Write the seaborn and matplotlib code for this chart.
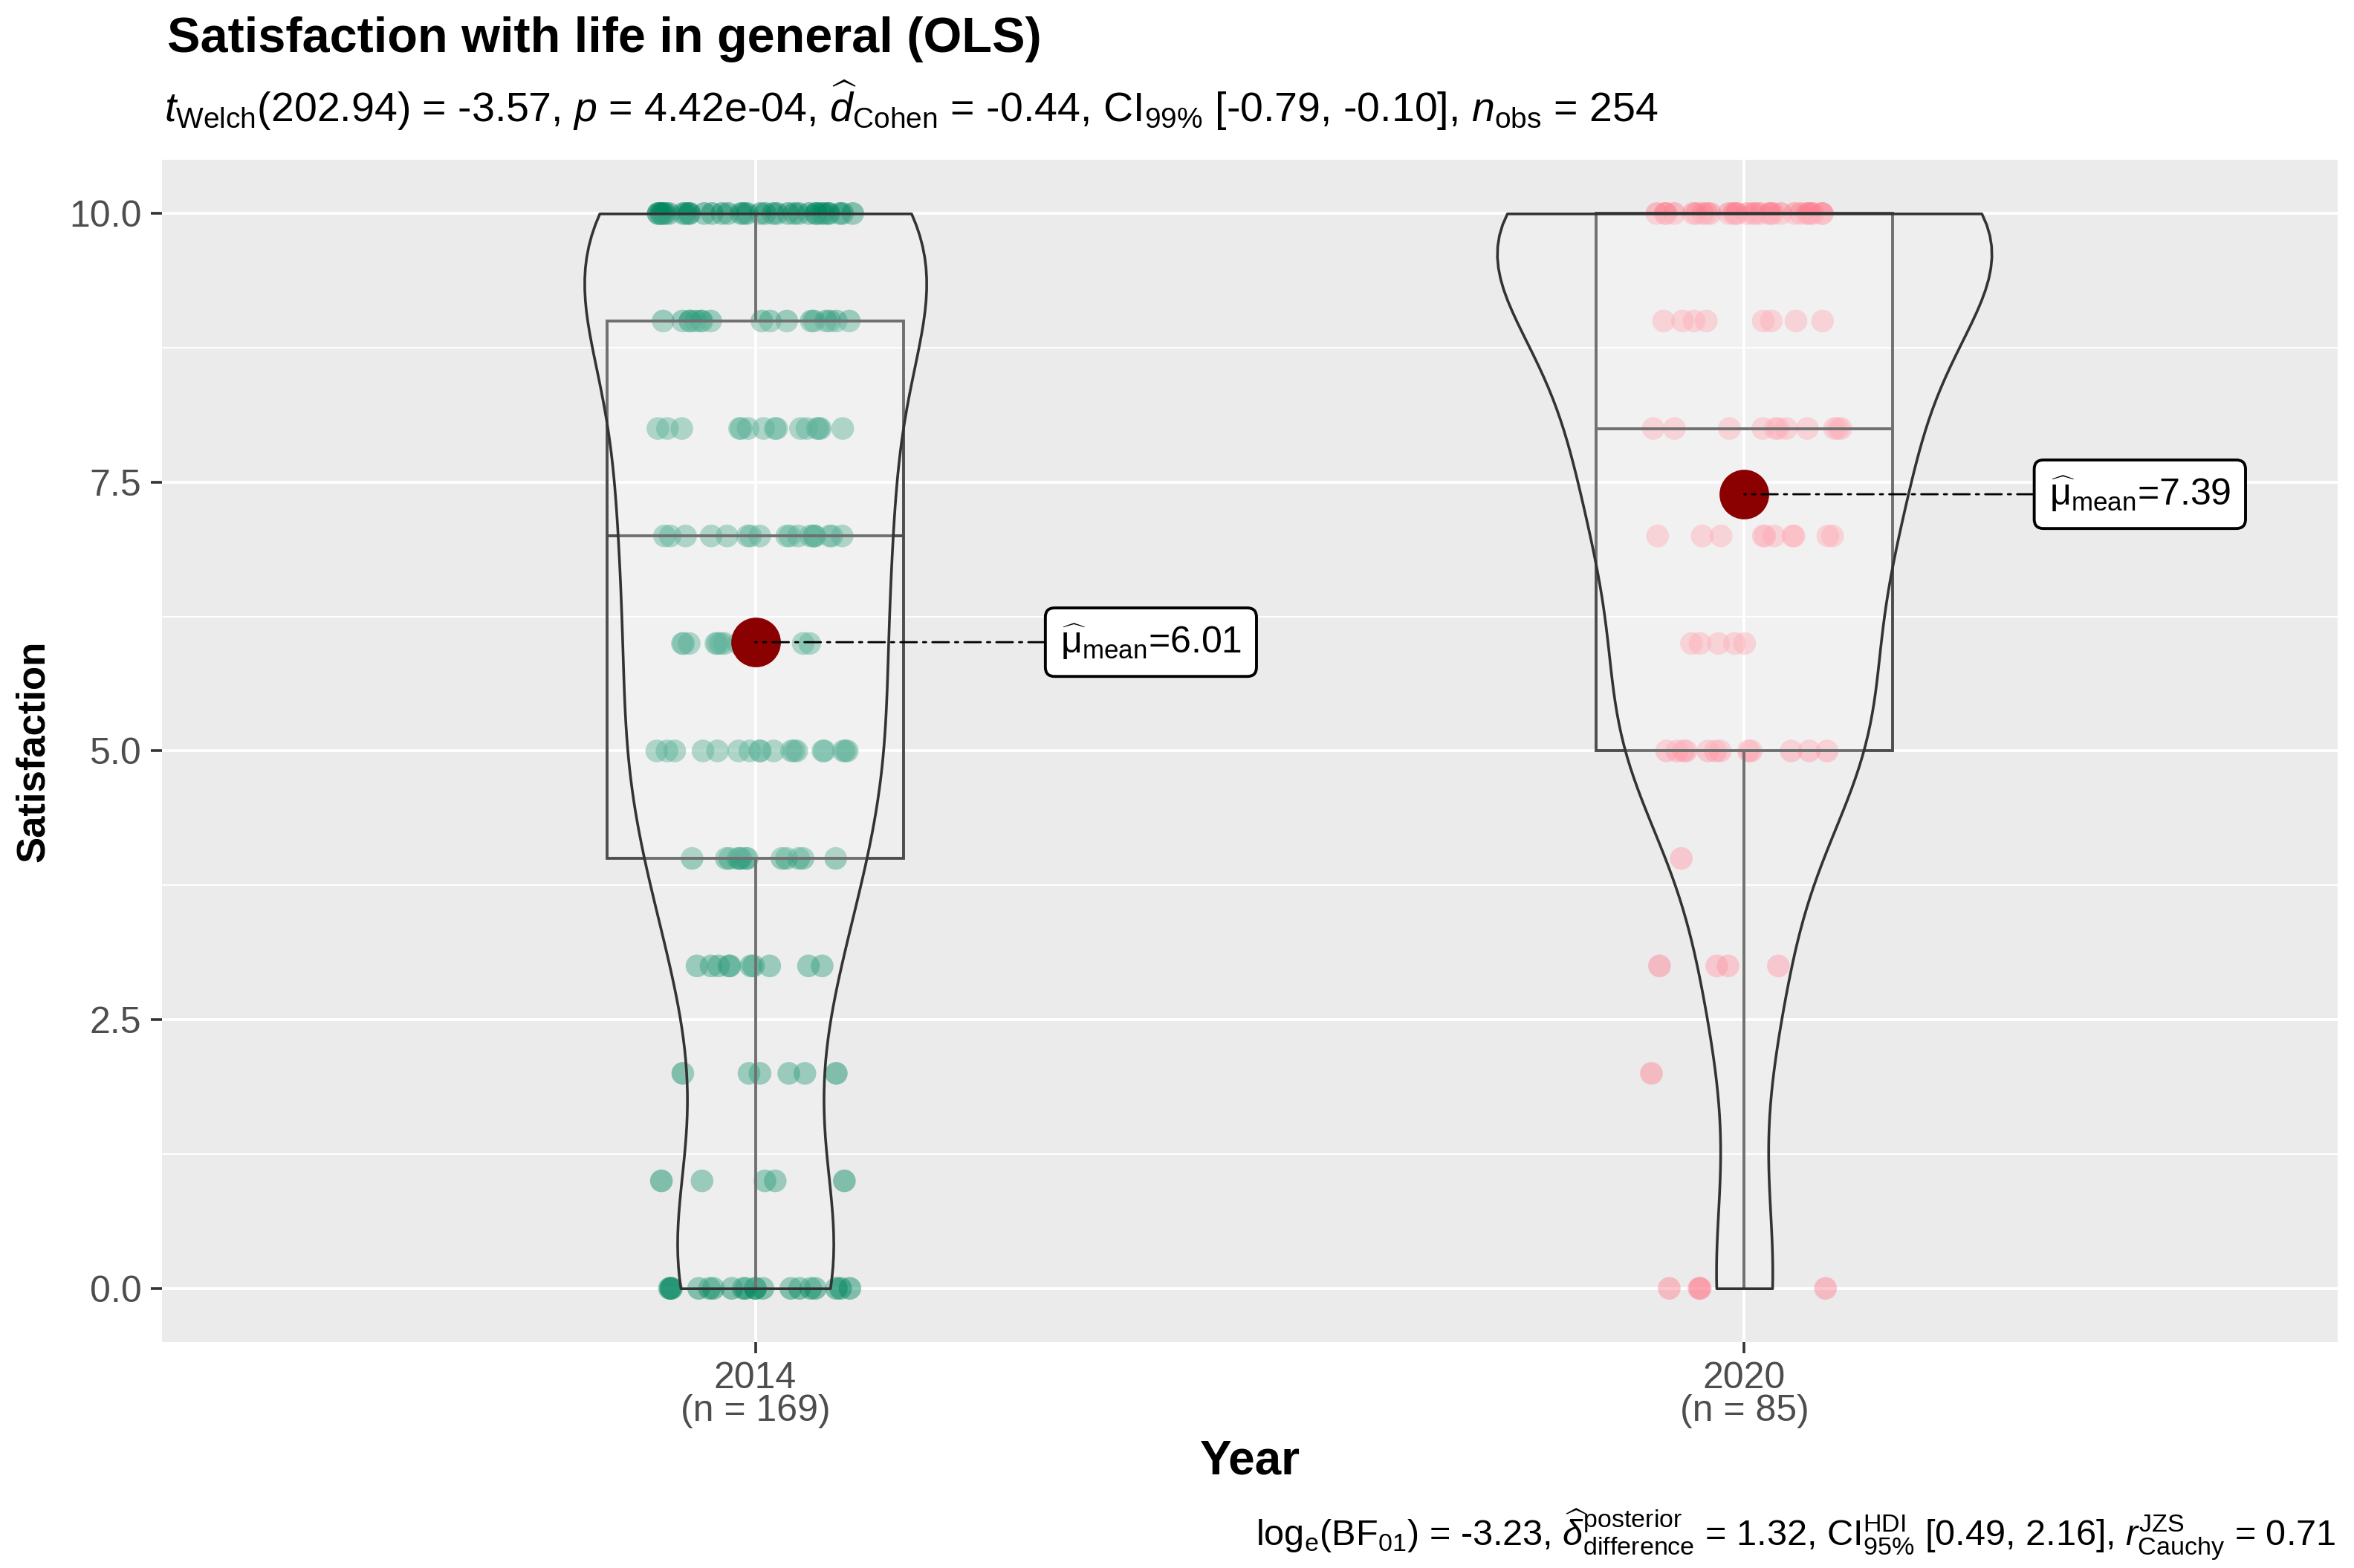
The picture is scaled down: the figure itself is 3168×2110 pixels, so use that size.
import numpy as np
import pandas as pd
import matplotlib
matplotlib.use("Agg")
import matplotlib.pyplot as plt
import seaborn as sns

# ---------------- data ----------------
years = ["2014", "2020"]
levels = [0, 1, 2, 3, 4, 5, 6, 7, 8, 9, 10]
counts_2014 = [19, 5, 6, 10, 13, 18, 13, 18, 15, 17, 35]   # n = 169
counts_2020 = [4, 0, 1, 4, 1, 12, 5, 10, 11, 8, 29]        # n = 85
group_n = [169, 85]
mean_labels = ["6.01", "7.39"]
point_colors = ["#00875F", "#FF7F90"]
y_ticks = [0, 2.5, 5, 7.5, 10]
y_ticklabels = ["0.0", "2.5", "5.0", "7.5", "10.0"]
y_minor = [1.25, 3.75, 6.25, 8.75]

title = "Satisfaction with life in general (OLS)"
subtitle = (r"$t_{\mathrm{Welch}}$(202.94) = -3.57, $p$ = 4.42e-04, "
            r"$\widehat{d}_{\mathrm{Cohen}}$ = -0.44, CI$_{\mathrm{99\%}}$ [-0.79, -0.10], "
            r"$n_{\mathrm{obs}}$ = 254")
caption = (r"log$_{\mathrm{e}}$(BF$_{\mathrm{01}}$) = -3.23, "
           r"$\widehat{\delta}_{\mathrm{difference}}^{\mathrm{posterior}}$ = 1.32, "
           r"CI$_{\mathrm{95\%}}^{\mathrm{HDI}}$ [0.49, 2.16], "
           r"$r_{\mathrm{Cauchy}}^{\mathrm{JZS}}$ = 0.71")
x_title = "Year"
y_title = "Satisfaction"

df = pd.DataFrame({
    "Year": np.repeat(years, [sum(counts_2014), sum(counts_2020)]),
    "Satisfaction": np.concatenate([np.repeat(levels, counts_2014),
                                    np.repeat(levels, counts_2020)]).astype(float),
})

# ---------------- style ----------------
sns.set_theme(style="white")
plt.rcParams["font.family"] = ["Liberation Sans", "DejaVu Sans"]
plt.rcParams["mathtext.fontset"] = "custom"
plt.rcParams["mathtext.rm"] = "Liberation Sans"
plt.rcParams["mathtext.it"] = "Liberation Sans:italic"
plt.rcParams["mathtext.bf"] = "Liberation Sans:bold"

W, H = 3168, 2110
fig = plt.figure(figsize=(W / 200, H / 200), dpi=200)
L, R, T, B = 218, 3146, 215, 1806
ax = fig.add_axes([L / W, 1 - B / H, (R - L) / W, (B - T) / H])
ax.set_facecolor("#EBEBEB")

np.random.seed(7)

def track():
    return len(ax.collections), len(ax.patches), len(ax.lines)

# points
c0, p0, l0 = track()
sns.stripplot(data=df, x="Year", y="Satisfaction", hue="Year", order=years,
              hue_order=years, palette=point_colors, jitter=0.1, size=11,
              alpha=0.45, linewidth=0, legend=False, ax=ax)
for c in ax.collections[c0:]:
    c.set_zorder(3)

# boxplot
c0, p0, l0 = track()
sns.boxplot(data=df, x="Year", y="Satisfaction", order=years, width=0.3,
            whis=1.5, showfliers=False, showcaps=False, color="white",
            linecolor="#4D4D4D", linewidth=1.4, ax=ax)
for p in ax.patches[p0:]:
    p.set_facecolor((1, 1, 1, 0.2))
    p.set_zorder(4)
for ln in ax.lines[l0:]:
    ln.set_zorder(4.1)

# violin
c0, p0, l0 = track()
sns.violinplot(data=df, x="Year", y="Satisfaction", order=years, width=0.5,
               cut=0, density_norm="area", bw_method="scott", bw_adjust=0.9,
               inner=None, color="white", linecolor="#333333", linewidth=1.3,
               ax=ax)
for c in ax.collections[c0:]:
    c.set_facecolor((1, 1, 1, 0.2))
    c.set_edgecolor("#333333")
    c.set_zorder(5)

# means
c0, p0, l0 = track()
sns.pointplot(data=df, x="Year", y="Satisfaction", order=years, estimator="mean",
              errorbar=None, color="darkred", markers="o", linestyle="none",
              markersize=22, ax=ax)
for ln in ax.lines[l0:]:
    ln.set_zorder(6)
for c in ax.collections[c0:]:
    c.set_zorder(6)

means = df.groupby("Year")["Satisfaction"].mean().reindex(years).values
for i, (m, lab) in enumerate(zip(means, mean_labels)):
    ax.annotate(r"$\widehat{\mathrm{\mu}}_{\mathrm{mean}}$=" + lab, xy=(i, m),
                xytext=(i + 0.4, m), textcoords="data", ha="center", va="center",
                fontsize=18, color="black", zorder=7,
                bbox=dict(boxstyle="round,pad=0.4,rounding_size=0.25",
                          fc="white", ec="black", lw=1.4),
                arrowprops=dict(arrowstyle="-", color="black", lw=1.0,
                                linestyle=(0, (8, 3, 1.5, 3)),
                                shrinkA=0, shrinkB=0))

# axes
ax.set_xlim(-0.6, 1.6)
ax.set_ylim(-0.5, 10.5)
ax.set_yticks(y_ticks)
ax.set_yticklabels(y_ticklabels)
ax.set_yticks(y_minor, minor=True)
ax.set_xticks(range(len(years)))
ax.set_xticklabels([f"{y}\n(n = {n})" for y, n in zip(years, group_n)],
                   linespacing=0.95)
ax.tick_params(axis="both", which="major", length=5.4, width=1.3,
               color="#333333", labelcolor="#4D4D4D", labelsize=18,
               direction="out", bottom=True, left=True)
ax.tick_params(axis="y", which="major", pad=4.5)
ax.tick_params(axis="x", which="major", pad=4.0)
ax.tick_params(which="minor", length=0)
ax.grid(True, which="major", color="white", linewidth=1.4)
ax.grid(True, which="minor", axis="y", color="white", linewidth=0.7)
ax.set_axisbelow(True)
for s in ax.spines.values():
    s.set_visible(False)

ax.set_xlabel(x_title, fontsize=23, fontweight="bold", color="black")
ax.set_ylabel(y_title, fontsize=19, fontweight="bold", color="black")
ax.xaxis.set_label_coords(0.5, -(1966 - B) / (B - T))
ax.xaxis.label.set_va("center")
ax.yaxis.set_label_coords(-(L - 45) / (R - L), 0.5)
ax.yaxis.label.set_va("center")

fig.text(225 / W, 1 - 70 / H, title, fontsize=24, fontweight="bold",
         ha="left", va="baseline", color="black")
fig.text(221 / W, 1 - 164 / H, subtitle, fontsize=20, ha="left",
         va="baseline", color="black")
fig.text(3143 / W, 1 - 2080 / H, caption, fontsize=17.5, ha="right",
         va="baseline", color="black")

fig.savefig("out.png", dpi=200, facecolor="white")
